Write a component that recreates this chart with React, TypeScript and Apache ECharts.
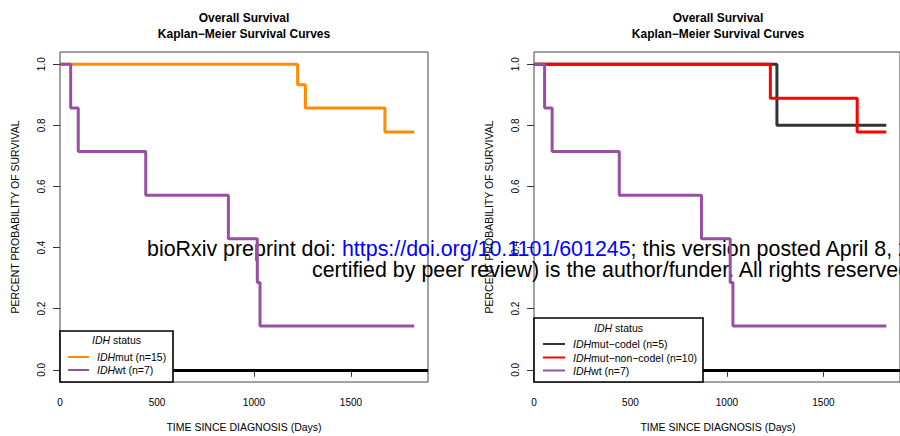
import React, { useEffect, useRef } from "react";
import * as echarts from "echarts";

const FONT = "'Liberation Sans', Arial, Helvetica, sans-serif";

// Axis ticks
const xTicks = [0, 500, 1000, 1500];
const yTicks = [0, 0.2, 0.4, 0.6, 0.8, 1.0];
const X_MAX = 1897;
const Y_MIN = -0.04;
const Y_MAX = 1.04;

// Left panel: IDH status
const mutTimes = [0, 1225, 1265, 1675, 1826];
const mutSurv = [1, 0.933, 0.857, 0.778, 0.778];
const wtTimes = [0, 55, 94, 442, 868, 1017, 1031, 1826];
const wtSurv = [1, 0.857, 0.714, 0.571, 0.429, 0.286, 0.143, 0.143];

// Right panel: IDH + 1p/19q
const codelTimes = [0, 1259, 1826];
const codelSurv = [1, 0.8, 0.8];
const nonCodelTimes = [0, 1225, 1675, 1826];
const nonCodelSurv = [1, 0.889, 0.778, 0.778];

const leftGroups = [
  { suffix: "mut (n=15)", color: "#FF8C00", times: mutTimes, surv: mutSurv },
  { suffix: "wt (n=7)", color: "#984EA3", times: wtTimes, surv: wtSurv },
];
const rightGroups = [
  { suffix: "mut\u2212codel (n=5)", color: "#333333", times: codelTimes, surv: codelSurv },
  { suffix: "mut\u2212non\u2212codel (n=10)", color: "#FF0000", times: nonCodelTimes, surv: nonCodelSurv },
  { suffix: "wt (n=7)", color: "#984EA3", times: wtTimes, surv: wtSurv },
];

const TITLE1 = "Overall Survival";
const TITLE2 = "Kaplan\u2212Meier Survival Curves";
const XNAME = "TIME SINCE DIAGNOSIS (Days)";
const YNAME = "PERCENT PROBABILITY OF SURVIVAL";
const WATERMARK1_PRE = "bioRxiv preprint doi: ";
const WATERMARK1_URL = "https://doi.org/10.1101/601245";
const WATERMARK1_POST = "; this version posted April 8, 2019.";
const WATERMARK2 = "certified by peer review) is the author/funder. All rights reserved.";

const panels = [
  {
    left: 60, groups: leftGroups,
    legend: { x: 60, y: 331, w: 113, h: 51, titleY: 340, rowYs: [357, 370], lineX1: 68, lineX2: 89, textX: 97 },
  },
  {
    left: 534, groups: rightGroups,
    legend: { x: 534, y: 318, w: 169, h: 64, titleY: 328, rowYs: [344, 357.5, 370.5], lineX1: 543, lineX2: 565, textX: 573 },
  },
];
const GRID_TOP = 52;
const GRID_W = 368;
const GRID_H = 330;

export default function App() {
  const ref = useRef<HTMLDivElement>(null);
  useEffect(() => {
    if (!ref.current) return;
    const chart = echarts.init(ref.current, undefined, { renderer: "svg" });

    const grid: any[] = [];
    const xAxis: any[] = [];
    const yAxis: any[] = [];
    const series: any[] = [];
    const graphic: any[] = [];

    panels.forEach((p, pi) => {
      grid.push({
        left: p.left, top: GRID_TOP, width: GRID_W, height: GRID_H,
        show: true, borderColor: "#444", borderWidth: 1, backgroundColor: "transparent",
      });
      xAxis.push({
        gridIndex: pi, type: "value", min: 0, max: X_MAX,
        axisLine: { show: false },
        axisTick: { show: true, length: 7, customValues: xTicks, lineStyle: { color: "#333", width: 1 } },
        axisLabel: {
          customValues: xTicks, margin: 15, fontSize: 10, color: "#000", fontFamily: FONT,
          formatter: (v: number) => String(v),
        },
        splitLine: { show: false },
      });
      yAxis.push({
        gridIndex: pi, type: "value", min: Y_MIN, max: Y_MAX,
        axisLine: { show: false },
        axisTick: { show: true, length: 7, customValues: yTicks, lineStyle: { color: "#333", width: 1 } },
        axisLabel: {
          customValues: yTicks, margin: 14, fontSize: 10, color: "#000", fontFamily: FONT, rotate: 90,
          formatter: (v: number) => v.toFixed(1),
        },
        splitLine: { show: false },
      });
      p.groups.forEach((g, gi) => {
        series.push({
          type: "line", xAxisIndex: pi, yAxisIndex: pi, step: "end", symbol: "none",
          name: "IDH" + g.suffix, z: 3 + gi,
          lineStyle: { color: g.color, width: 3 },
          data: g.times.map((t, i) => [t, g.surv[i]]),
          markLine: gi === 0 ? {
            symbol: "none", silent: true, label: { show: false },
            lineStyle: { color: "#000", width: 3, type: "solid" },
            data: [{ yAxis: 0 }],
          } : undefined,
        });
      });

      const cx = p.left + GRID_W / 2;
      graphic.push(
        { type: "text", x: cx, y: 18, z: 10, style: { text: TITLE1, font: `bold 12px ${FONT}`, fill: "#000", align: "center", verticalAlign: "middle" } },
        { type: "text", x: cx, y: 33.5, z: 10, style: { text: TITLE2, font: `bold 12px ${FONT}`, fill: "#000", align: "center", verticalAlign: "middle" } },
        { type: "text", x: cx, y: 427, z: 10, style: { text: XNAME, font: `10.5px ${FONT}`, fill: "#000", align: "center", verticalAlign: "middle" } },
        { type: "text", x: p.left - 45, y: GRID_TOP + GRID_H / 2, rotation: Math.PI / 2, z: 10, style: { text: YNAME, font: `10.5px ${FONT}`, fill: "#000", align: "center", verticalAlign: "middle" } },
      );

      const L = p.legend;
      graphic.push({
        type: "rect", z: 50, shape: { x: L.x, y: L.y, width: L.w, height: L.h },
        style: { fill: "#fff", stroke: "#000", lineWidth: 1.6 },
      });
      graphic.push({
        type: "text", z: 51, x: L.x + L.w / 2, y: L.titleY,
        style: {
          text: "{i|IDH} status", align: "center", verticalAlign: "middle", fill: "#000",
          font: `10.5px ${FONT}`,
          rich: { i: { fontStyle: "italic", fontSize: 10.5, fontFamily: FONT, fill: "#000" } },
        },
      });
      p.groups.forEach((g, gi) => {
        const ry = L.rowYs[gi];
        graphic.push({
          type: "line", z: 51, shape: { x1: L.lineX1, y1: ry, x2: L.lineX2, y2: ry },
          style: { stroke: g.color, lineWidth: 2 },
        });
        graphic.push({
          type: "text", z: 51, x: L.textX, y: ry,
          style: {
            text: "{i|IDH}" + g.suffix, align: "left", verticalAlign: "middle", fill: "#000",
            font: `10.5px ${FONT}`,
            rich: { i: { fontStyle: "italic", fontSize: 10.5, fontFamily: FONT, fill: "#000" } },
          },
        });
      });
    });

    // bioRxiv watermark
    graphic.push({
      type: "text", z: 1, x: 147, y: 249,
      style: {
        text: WATERMARK1_PRE + "{u|" + WATERMARK1_URL + "}" + WATERMARK1_POST,
        font: `21.4px ${FONT}`, fill: "#000", align: "left", verticalAlign: "middle",
        rich: { u: { fill: "#0000FF", fontSize: 21.4, fontFamily: FONT } },
      },
    });
    graphic.push({
      type: "text", z: 1, x: 312, y: 270,
      style: {
        text: WATERMARK2,
        font: `21.4px ${FONT}`, fill: "#000", align: "left", verticalAlign: "middle",
      },
    });

    chart.setOption({
      animation: false,
      backgroundColor: "#fff",
      textStyle: { fontFamily: FONT },
      grid, xAxis, yAxis, series, graphic,
    });
    return () => chart.dispose();
  }, []);
  return (
    <div
      ref={ref}
      style={{ position: "absolute", left: 0, top: 0, width: 900, height: 436 }}
    />
  );
}
